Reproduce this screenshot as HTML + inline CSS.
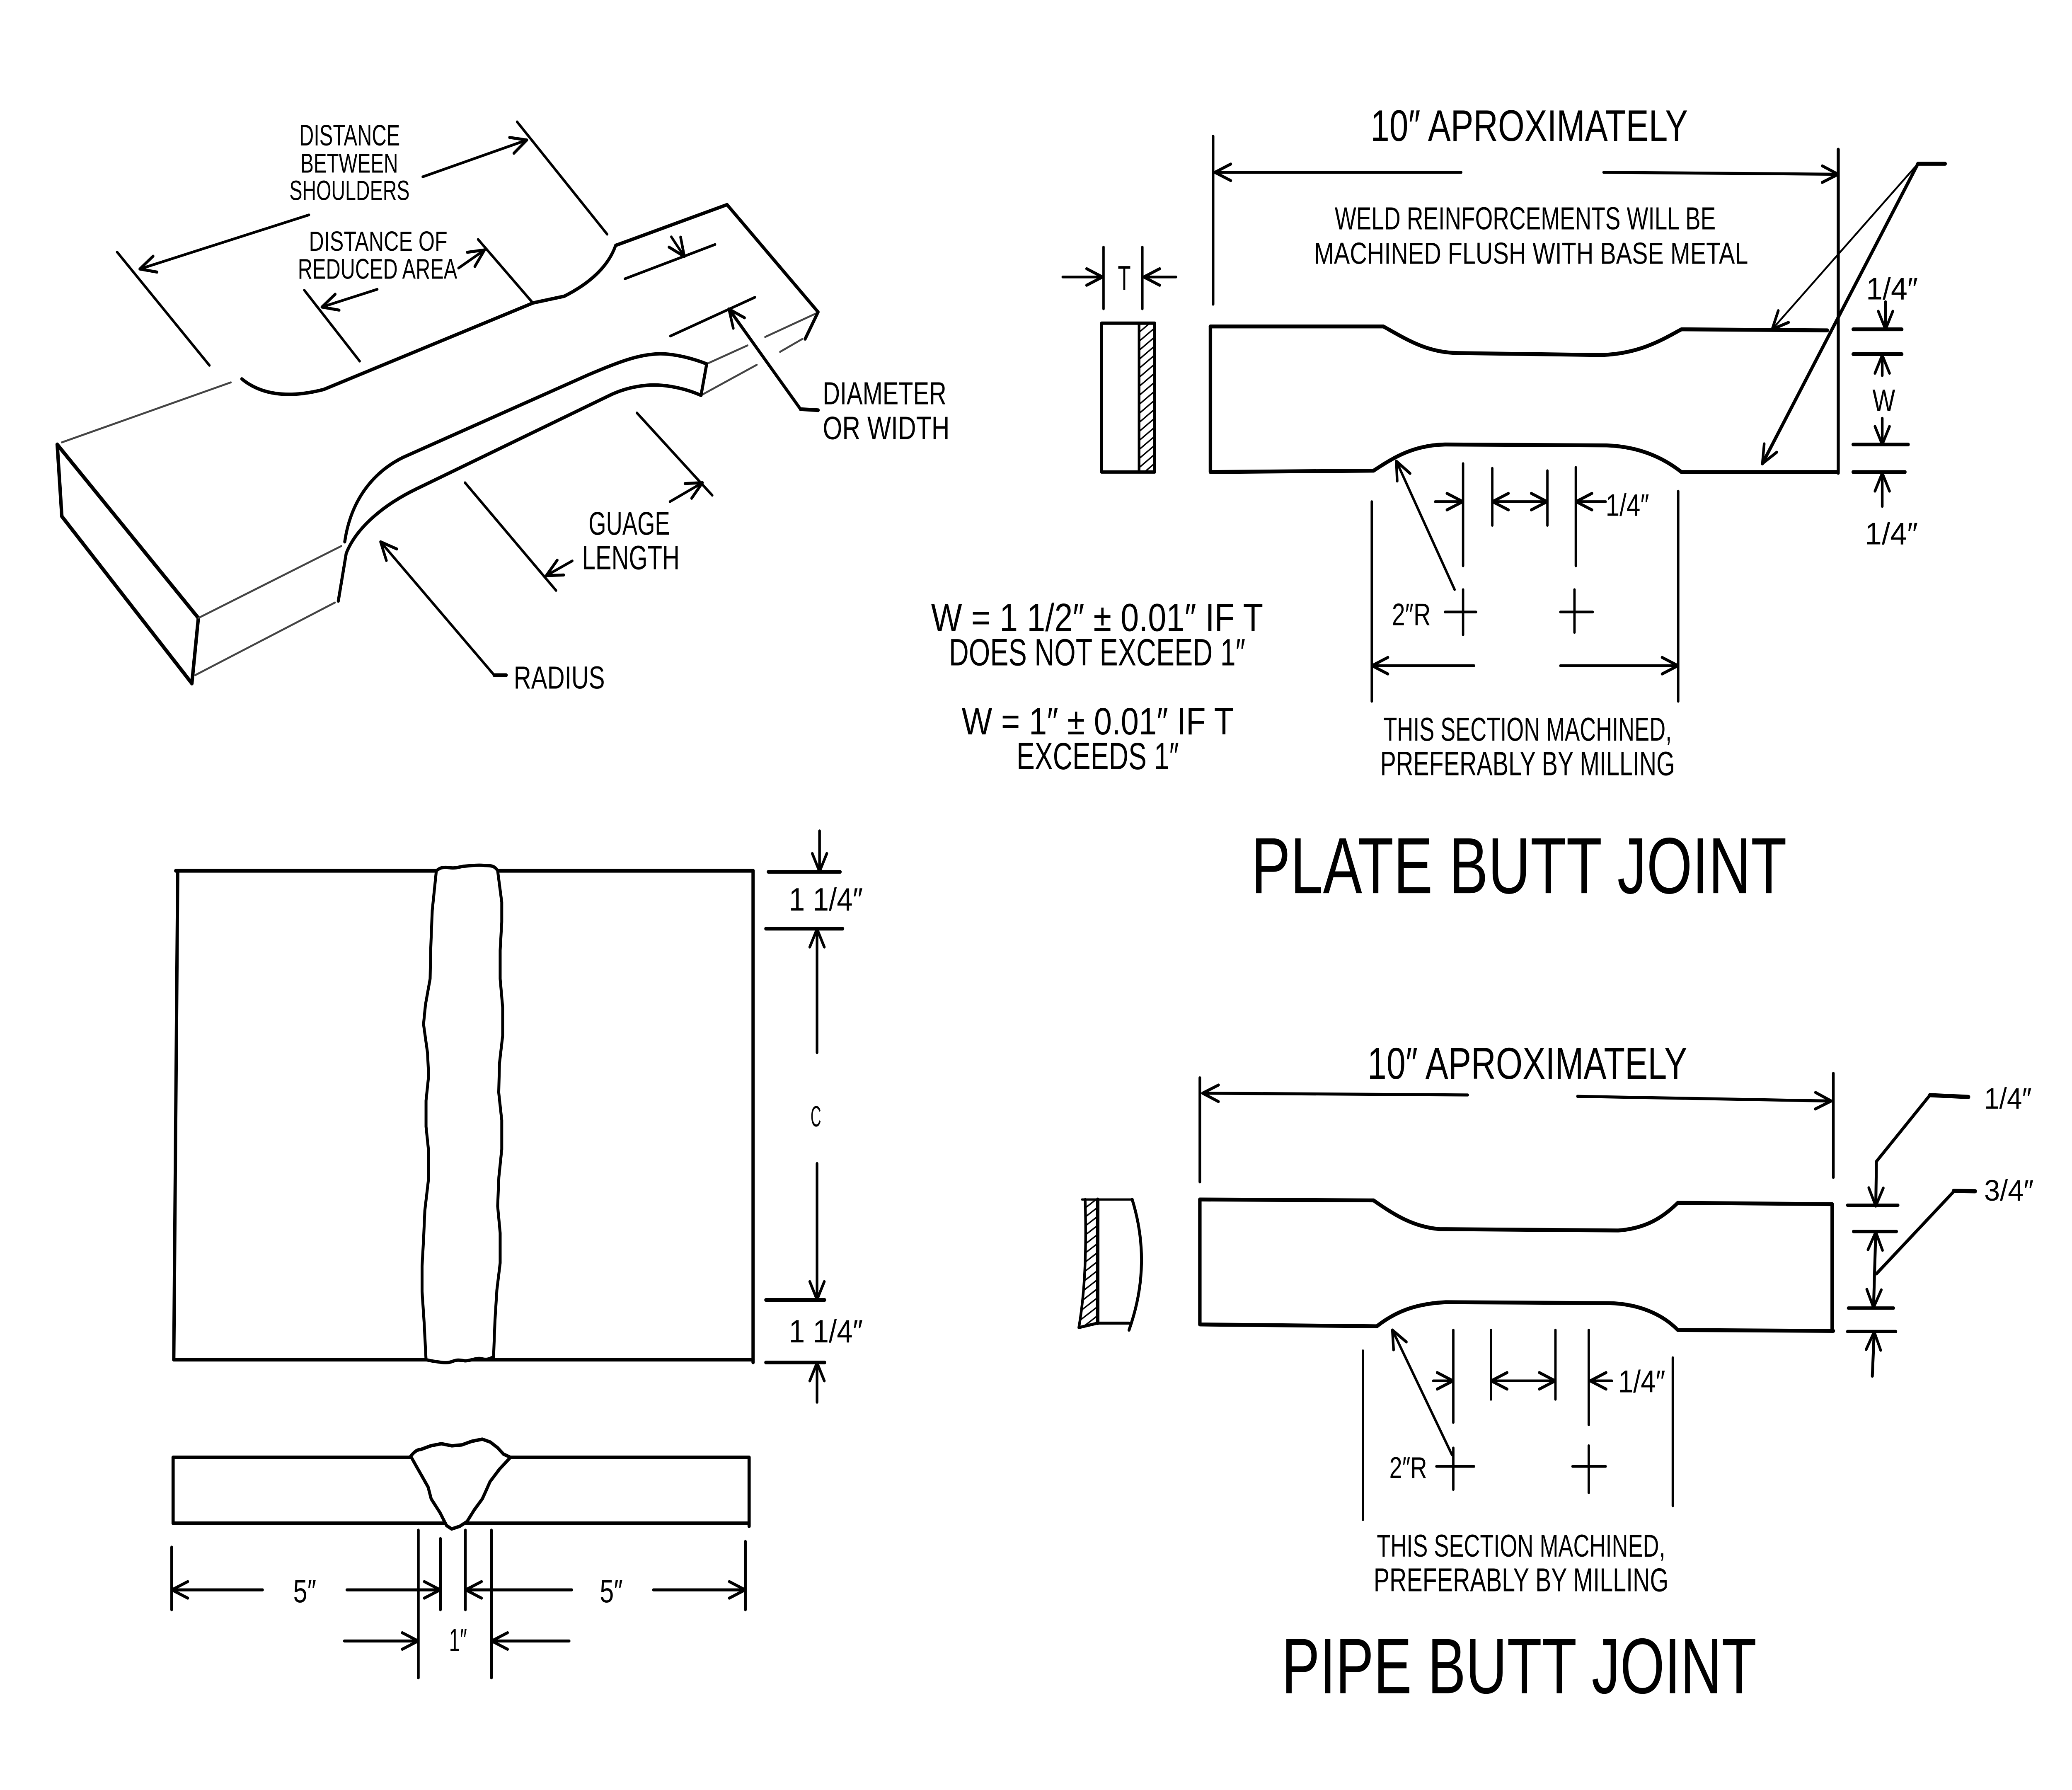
<!DOCTYPE html>
<html><head><meta charset="utf-8"><style>html,body{margin:0;padding:0;background:#fff;width:100%;height:100%;overflow:hidden;}svg{display:block;width:100vw;height:100vh;}</style></head>
<body>
<svg xmlns="http://www.w3.org/2000/svg" viewBox="0 0 1568 1190.4" preserveAspectRatio="none">
<defs>
<marker id="ah" markerUnits="userSpaceOnUse" markerWidth="30" markerHeight="30" viewBox="-15 -15 30 30" refX="0" refY="0" orient="auto-start-reverse" overflow="visible">
<path d="M-12,-5.5 L0,0 L-12,5.5" fill="none" stroke="#000" stroke-width="2" stroke-linecap="round" stroke-linejoin="round"/>
</marker>
<clipPath id="tclip"><rect x="862" y="215" width="11.8" height="98.9"/></clipPath>
<clipPath id="cclip"><path d="M821.2,797.7 L830.7,797.7 L830.7,879.9 L816.4,882.9 Q823,850 821.2,797.7 Z"/></clipPath>
</defs>
<rect x="0" y="0" width="1568" height="1190.4" fill="#fff"/>

<g fill="none" stroke="#000" stroke-linecap="round" stroke-linejoin="round">
<!-- ============ ISOMETRIC SPECIMEN ============ -->
<g stroke-width="2.6">
<path d="M43.3,295.6 L150.1,411"/>
<path d="M43.3,295.6 L46.8,343.4"/>
<path d="M46.8,343.4 L145.2,454.5"/>
<path d="M150.1,411 L145.2,454.5"/>
</g>
<g stroke="#444" stroke-width="1.3">
<path d="M46.8,294.2 L174.7,254.3"/>
<path d="M150.1,411 L258.4,363.1"/>
<path d="M147.7,449 L253.5,400.7"/>
<path d="M579,224.1 L618.4,208.1"/>
<path d="M590.3,234 L607.2,225.4"/>
<path d="M534.8,242 L565.7,229.7"/>
<path d="M530.5,262.9 L572.7,242.6"/>
</g>
<g stroke-width="2.3">
<path d="M183,252 Q205,268 245,259 L403.6,201.4 L427,197 C445,189 460,178 465.9,163.2"/>
<path d="M465.9,163.2 L550.2,136.1 L619.1,207.5 L609.3,225.4"/>
<path d="M534.8,242 L530.5,262.9"/>
<path d="M534.8,242 C520,237 505,234.5 495,235.5 C480,236.5 465,242 445.4,249.2 L305.2,304.1 C280,315 265,335 260.9,360.3"/>
<path d="M530.5,262.9 C515,257 500,255.5 490,256.2 C478,257 468,260 460,263.5 L315,325.2 C292,335 270,350 262,368 L256,399.7"/>
</g>
<g stroke-width="1.8">
<path d="M88.6,167.6 L158.5,243"/>
<path d="M233.8,142.9 L105.8,178.9" marker-end="url(#ah)"/>
<path d="M319.9,117.6 L398.7,93.1" marker-end="url(#ah)"/>
<path d="M391.3,81 L459.5,155.8"/>
<path d="M230.3,193 L272.2,240.2"/>
<path d="M285.5,192.4 L243.6,204.2" marker-end="url(#ah)"/>
<path d="M347,178.3 L366.7,166.2" marker-end="url(#ah)"/>
<path d="M361.8,159.2 L402.6,200.8"/>
<path d="M472.9,185.4 L541.1,162.6"/>
<path d="M508,157.5 L517.9,170.6" marker-end="url(#ah)"/>
<path d="M507.3,223.5 L571.3,197.7"/>
<path d="M605.8,272.1 L551.6,205.5" marker-end="url(#ah)" stroke-width="2.2"/>
<path d="M605.8,272.1 L619.1,272.8" stroke-width="2.5"/>
<path d="M482,274.6 L539,329.4"/>
<path d="M507,333.6 L531.6,321" marker-end="url(#ah)"/>
<path d="M351.9,321 L420.8,392.7"/>
<path d="M433.1,373 L413.4,382.8" marker-end="url(#ah)"/>
<path d="M374,449 L288,360.3" marker-end="url(#ah)"/>
<path d="M374,449 L383,449" stroke-width="2.5"/>
</g>

<!-- ============ PLATE BUTT JOINT ============ -->
<rect x="833.6" y="214.9" width="40.2" height="99" stroke-width="2.2"/>
<path d="M862,214.9 V313.9" stroke-width="2"/>
<g clip-path="url(#tclip)" stroke-width="1">
<path d="M862,221 L874,212 M862,227 L874,218 M862,233 L874,224 M862,239 L874,230 M862,245 L874,236 M862,251 L874,242 M862,257 L874,248 M862,263 L874,254 M862,269 L874,260 M862,275 L874,266 M862,281 L874,272 M862,287 L874,278 M862,293 L874,284 M862,299 L874,290 M862,305 L874,296 M862,311 L874,302 M862,317 L874,308 M862,323 L874,314"/>
</g>
<g stroke-width="1.8">
<path d="M835.1,164.3 V205.4"/>
<path d="M864.5,164.3 V205.4"/>
<path d="M804.2,184.2 L834.3,184.2" marker-end="url(#ah)"/>
<path d="M890,184.2 L865.6,184.2" marker-end="url(#ah)"/>
</g>
<g stroke-width="2.6">
<path d="M916,217.1 L1046.9,217.1 C1065,226 1080,234.5 1103.3,234.8 L1211.2,236.1 C1240,235.5 1258,226 1272.4,219 L1382.8,219.7"/>
<path d="M916,217.1 V313.9 L1039.5,313 C1055,304 1070,296 1093.5,295.6 L1216,296.2 C1240,297 1258,304 1272.4,313.9 L1390.1,313.9"/>
</g>
<g stroke-width="2">
<path d="M1391.1,99.4 V314.6" stroke-width="2.3"/>
<path d="M918,90.6 V202.3"/>
<path d="M1105.7,114.6 L919.4,114.6" marker-end="url(#ah)"/>
<path d="M1213.6,114.6 L1391,115.9" marker-end="url(#ah)"/>
<path d="M1451.4,108.9 H1472" stroke-width="2.6"/>
<path d="M1451.4,108.9 L1341.1,219" stroke-width="1.3" marker-end="url(#ah)"/>
<path d="M1451.4,108.9 L1333.7,308.3" stroke-width="2.4" marker-end="url(#ah)"/>
<path d="M1402.4,219 H1439.2" stroke-width="2.5"/>
<path d="M1426.9,200.7 L1426.9,219" marker-end="url(#ah)"/>
<path d="M1402.4,235.5 H1439.2" stroke-width="2.5"/>
<path d="M1424.4,249.7 L1424.4,236.2" marker-end="url(#ah)"/>
<path d="M1424.4,278.2 L1424.4,295.6" marker-end="url(#ah)"/>
<path d="M1402.4,295.6 H1444" stroke-width="2.5"/>
<path d="M1402.4,313.9 H1441.6" stroke-width="2.5"/>
<path d="M1424.4,336.7 L1424.4,314.6" marker-end="url(#ah)"/>
</g>
<g stroke-width="1.8">
<path d="M1100.8,392.1 L1056.7,306.7" marker-end="url(#ah)"/>
<path d="M1107.2,392.1 V422.2 M1093.5,407 H1117"/>
<path d="M1191.5,392.1 V420.6 M1180.8,407 H1205.3"/>
<path d="M1107.2,308.3 V376.3"/>
<path d="M1129.3,311.4 V349.4"/>
<path d="M1171,313 V349.4"/>
<path d="M1192.5,310.8 V376.3"/>
<path d="M1086.1,333.6 L1107,333.6" marker-end="url(#ah)"/>
<path d="M1129.5,333.6 L1170.8,333.6" marker-start="url(#ah)" marker-end="url(#ah)"/>
<path d="M1215.1,333.6 L1192.7,333.6" marker-end="url(#ah)"/>
<path d="M1038.1,333.6 V466.4"/>
<path d="M1270,326.6 V466.4"/>
<path d="M1115.5,442.7 L1038.3,442.7" marker-end="url(#ah)"/>
<path d="M1180.8,442.7 L1269.8,442.7" marker-end="url(#ah)"/>
</g>

<!-- ============ WELDED PLATE (bottom-left) ============ -->
<g stroke-width="2.5">
<path d="M134.5,579.1 L131.5,904.2"/>
<path d="M133,579.1 H569.9"/>
<path d="M569.9,579.1 V906"/>
<path d="M131.5,904.2 H569.9"/>
</g>
<path fill="#fff" stroke-width="2.2" d="M330.2,579.1 C333,577 335,576.5 340,577 C345,577.8 349,576 352,576 C358,575.5 362,575.2 366,575.5 C370,575.8 374,575 376.6,579.1 L379.7,600 L379.7,613.1 L378.5,632 L378.5,650.9 L380.4,670 L380.4,688.7 L378,707 L377.4,726.5 L379.7,745 L379.7,764.3 L377.5,783 L376.6,802.1 L378.5,820 L378.5,839.9 L376,858 L374.6,877.7 L373.5,902.3 C370,904 368,904.5 364,903.5 C360,903 356,905 352,905 C348,904.5 346,904 342,905.5 C338,906.8 334,906 330,905.5 C326,905 324,904.6 322.4,904.2 L321,880 L319.4,858.8 L319.4,842 L320.5,824.8 L321.5,805 L324.4,783.2 L324.4,766 L322.4,749.2 L322.4,732 L324.4,715.2 L323.5,700 L320.5,681.1 L322,668 L325.5,650.9 L326,630 L327.1,605.5 Z"/>
<g stroke-width="2">
<path d="M581.5,579.8 H635.7" stroke-width="2.5"/>
<path d="M620.2,552.6 L620.2,579.6" marker-end="url(#ah)"/>
<path d="M579.6,617.6 H637.6" stroke-width="2.5"/>
<path d="M618.3,700 L618.3,617.8" marker-end="url(#ah)"/>
<path d="M618.3,773.8 L618.3,864.3" marker-end="url(#ah)"/>
<path d="M579.6,864.5 H624" stroke-width="2.5"/>
<path d="M579.6,906.1 H624" stroke-width="2.5"/>
<path d="M618.3,932.5 L618.3,906.3" marker-end="url(#ah)"/>
</g>
<g stroke-width="2.4">
<path d="M131,969.2 H310.8"/>
<path d="M386.3,969.2 H566.9"/>
<path d="M131,969.2 V1013"/>
<path d="M566.9,969.2 V1015"/>
<path d="M131,1013 H566.9"/>
</g>
<path fill="#fff" stroke-width="2.3" d="M310.8,968.4 C314,965 316,964 318.6,963.9 L326,961.5 L334,960.1 L342,961.5 L349.5,960.9 L357,958.5 L365,957.1 L371,959 L376.6,962.8 L381,967 L386.3,969.2 L378,977 L370.8,985.4 L368,991 L365,996.8 L359,1004 L353.4,1011.9 L348,1015 L341.8,1016.8 L337.9,1014.5 L333,1006 L326.3,996.8 L324,989 L320.5,983.5 L315,975 Z"/>
<g stroke-width="2">
<path d="M129.9,1028.9 V1070.5"/>
<path d="M564.1,1025.1 V1070.5"/>
<path d="M316.6,1017.6 V1115.8"/>
<path d="M333.3,1023.2 V1070.5"/>
<path d="M352.2,1017.6 V1070.5"/>
<path d="M371.9,1017.6 V1115.8"/>
<path d="M198.7,1057.3 L130.1,1057.3" marker-end="url(#ah)"/>
<path d="M262.5,1057.3 L333.1,1057.3" marker-end="url(#ah)"/>
<path d="M432.7,1057.3 L352.4,1057.3" marker-end="url(#ah)"/>
<path d="M494.5,1057.3 L563.9,1057.3" marker-end="url(#ah)"/>
<path d="M260.6,1091.3 L316.4,1091.3" marker-end="url(#ah)"/>
<path d="M430.7,1091.3 L372.1,1091.3" marker-end="url(#ah)"/>
</g>

<!-- ============ PIPE BUTT JOINT ============ -->
<g stroke-width="2.6">
<path d="M908,797.7 L1039.5,798.3 C1055,808 1070,816 1089.3,817.4 L1224.6,818.3 C1245,817 1258,810 1269.7,799.9 L1386,800.8"/>
<path d="M908,797.7 V880.8 L1041.9,882 C1055,873 1070,867 1094.1,866 L1217.5,866.6 C1240,867 1258,874 1269.7,884.5 L1387.4,885.1"/>
<path d="M1386.5,800.8 V885.1"/>
</g>
<g stroke-width="2">
<path d="M908,716.8 V786"/>
<path d="M1387.4,713.8 V783"/>
<path d="M1110.7,728.2 L910.1,727" marker-end="url(#ah)"/>
<path d="M1193.8,729.1 L1385.8,732.2" marker-end="url(#ah)"/>
</g>
<!-- crescent section -->
<g clip-path="url(#cclip)" stroke-width="1">
<path d="M810,805 L832,790 M810,811 L832,796 M810,817 L832,802 M810,823 L832,808 M810,829 L832,814 M810,835 L832,820 M810,841 L832,826 M810,847 L832,832 M810,853 L832,838 M810,859 L832,844 M810,865 L832,850 M810,871 L832,856 M810,877 L832,862 M810,883 L832,868 M810,889 L832,874 M810,895 L832,880"/>
</g>
<g stroke-width="2">
<path d="M818.8,797.7 H856.8" stroke-width="1.5"/>
<path d="M830.7,879.9 H854.4"/>
<path d="M821.2,797.7 Q823,850 816.4,882.9 L830.7,879.9"/>
<path d="M830.7,797.7 V879.9" stroke-width="2.6"/>
<path d="M856.8,797.7 Q872,841 854.4,884.5" stroke-width="2.2"/>
</g>
<g stroke-width="2.2">
<path d="M1460.5,728.3 L1489.6,729.5" stroke-width="2.8"/>
<path d="M1460.5,728.3 L1420,772.4 L1419.5,802" marker-end="url(#ah)"/>
<path d="M1398.1,801.5 H1436.3"/>
<path d="M1402.6,819 H1435.2"/>
<path d="M1419.5,819.3 L1417.8,869.6" marker-start="url(#ah)" marker-end="url(#ah)"/>
<path d="M1478.4,792 L1494.7,792.2" stroke-width="2.8"/>
<path d="M1478.4,792.5 L1420,847.1"/>
<path d="M1398.7,869.9 H1433"/>
<path d="M1398.1,885.5 H1434.6"/>
<path d="M1416.9,915.1 L1418.3,885.7" marker-end="url(#ah)"/>
</g>
<g stroke-width="1.8">
<path d="M1098.8,967.5 L1053.7,884.5" marker-end="url(#ah)"/>
<path d="M1099.8,962.9 V990.6 M1087,975.2 H1115.5"/>
<path d="M1202.3,961.4 V992.7 M1190,975.2 H1215.1"/>
<path d="M1099.8,884.5 V946"/>
<path d="M1128.3,884.5 V930.6"/>
<path d="M1177.1,884.5 V930.6"/>
<path d="M1202.3,884.5 V947.5"/>
<path d="M1084.6,918.3 L1099.6,918.3" marker-end="url(#ah)"/>
<path d="M1128.5,918.3 L1176.9,918.3" marker-start="url(#ah)" marker-end="url(#ah)"/>
<path d="M1219.9,918.3 L1203.4,918.3" marker-end="url(#ah)"/>
<path d="M1031.4,898.3 V1010.6"/>
<path d="M1265.9,902.9 V1001.4"/>
</g>
</g>

<!-- ============ TEXT ============ -->
<g font-family="'Liberation Sans', sans-serif" fill="#000">
<text x="226.4" y="96.8" font-size="19.6" textLength="76.3" lengthAdjust="spacingAndGlyphs">DISTANCE</text>
<text x="227.4" y="114.8" font-size="18.2" textLength="73.8" lengthAdjust="spacingAndGlyphs">BETWEEN</text>
<text x="219" y="133" font-size="18.3" textLength="91" lengthAdjust="spacingAndGlyphs">SHOULDERS</text>
<text x="233.8" y="166.8" font-size="18.5" textLength="104.8" lengthAdjust="spacingAndGlyphs">DISTANCE OF</text>
<text x="225.4" y="185.4" font-size="18.9" textLength="120.6" lengthAdjust="spacingAndGlyphs">REDUCED AREA</text>
<text x="622.6" y="268.9" font-size="21.2" textLength="93.6" lengthAdjust="spacingAndGlyphs">DIAMETER</text>
<text x="622.6" y="292" font-size="21.4" textLength="96" lengthAdjust="spacingAndGlyphs">OR WIDTH</text>
<text x="445.4" y="355.5" font-size="21.7" textLength="61.6" lengthAdjust="spacingAndGlyphs">GUAGE</text>
<text x="440.5" y="378.6" font-size="22.5" textLength="73.8" lengthAdjust="spacingAndGlyphs">LENGTH</text>
<text x="388.8" y="457.9" font-size="21.2" textLength="68.9" lengthAdjust="spacingAndGlyphs">RADIUS</text>

<text x="1037.1" y="93.7" font-size="29.4" textLength="240.2" lengthAdjust="spacingAndGlyphs">10″ APROXIMATELY</text>
<text x="1010.1" y="152.6" font-size="21.2" textLength="288.3" lengthAdjust="spacingAndGlyphs">WELD REINFORCEMENTS WILL BE</text>
<text x="994.4" y="175.4" font-size="20.3" textLength="328.5" lengthAdjust="spacingAndGlyphs">MACHINED FLUSH WITH BASE METAL</text>
<text x="845.9" y="192.8" font-size="23" textLength="9.8" lengthAdjust="spacingAndGlyphs">T</text>
<text x="1412.2" y="199.1" font-size="20.6" textLength="39.2" lengthAdjust="spacingAndGlyphs">1/4″</text>
<text x="1417" y="273.4" font-size="20.6" textLength="17.2" lengthAdjust="spacingAndGlyphs">W</text>
<text x="1411.2" y="362" font-size="20.6" textLength="40.2" lengthAdjust="spacingAndGlyphs">1/4″</text>
<text x="1053.3" y="415.8" font-size="20.6" textLength="29.4" lengthAdjust="spacingAndGlyphs">2″R</text>
<text x="1215.1" y="343" font-size="20.6" textLength="32.9" lengthAdjust="spacingAndGlyphs">1/4″</text>
<text x="1046.9" y="492.5" font-size="22" textLength="218.2" lengthAdjust="spacingAndGlyphs">THIS SECTION MACHINED,</text>
<text x="1044.5" y="515.5" font-size="22.5" textLength="223" lengthAdjust="spacingAndGlyphs">PREFERABLY BY MILLING</text>

<text x="704.6" y="419.7" font-size="26" textLength="251.3" lengthAdjust="spacingAndGlyphs">W = 1 1/2″ ± 0.01″ IF T</text>
<text x="718.1" y="442.5" font-size="25.3" textLength="224.3" lengthAdjust="spacingAndGlyphs">DOES NOT EXCEED 1″</text>
<text x="727.8" y="488.4" font-size="25.3" textLength="205.9" lengthAdjust="spacingAndGlyphs">W = 1″ ± 0.01″ IF T</text>
<text x="769.3" y="511.6" font-size="25.3" textLength="122.8" lengthAdjust="spacingAndGlyphs">EXCEEDS 1″</text>

<text x="946.9" y="594" font-size="53" textLength="405.2" lengthAdjust="spacingAndGlyphs">PLATE BUTT JOINT</text>

<text x="597" y="605.5" font-size="21.5" textLength="56" lengthAdjust="spacingAndGlyphs">1 1/4″</text>
<text x="613.4" y="749.2" font-size="19.5" textLength="8" lengthAdjust="spacingAndGlyphs">C</text>
<text x="597" y="892.8" font-size="21.5" textLength="56" lengthAdjust="spacingAndGlyphs">1 1/4″</text>
<text x="221.9" y="1065.5" font-size="21.5" textLength="17.4" lengthAdjust="spacingAndGlyphs">5″</text>
<text x="453.9" y="1065.5" font-size="21.5" textLength="17.4" lengthAdjust="spacingAndGlyphs">5″</text>
<text x="339.8" y="1098" font-size="21.5" textLength="13.6" lengthAdjust="spacingAndGlyphs">1″</text>

<text x="1034.8" y="717.5" font-size="29.8" textLength="242" lengthAdjust="spacingAndGlyphs">10″ APROXIMATELY</text>
<text x="1501.5" y="737.3" font-size="19.6" textLength="36" lengthAdjust="spacingAndGlyphs">1/4″</text>
<text x="1501.5" y="798.5" font-size="19.6" textLength="37.5" lengthAdjust="spacingAndGlyphs">3/4″</text>
<text x="1224.6" y="926" font-size="21" textLength="35.6" lengthAdjust="spacingAndGlyphs">1/4″</text>
<text x="1051.4" y="982.9" font-size="20" textLength="28.5" lengthAdjust="spacingAndGlyphs">2″R</text>
<text x="1041.9" y="1035.2" font-size="21" textLength="218.3" lengthAdjust="spacingAndGlyphs">THIS SECTION MACHINED,</text>
<text x="1039.5" y="1058.3" font-size="22" textLength="223.1" lengthAdjust="spacingAndGlyphs">PREFERABLY BY MILLING</text>
<text x="969.9" y="1126" font-size="52.3" textLength="359.4" lengthAdjust="spacingAndGlyphs">PIPE BUTT JOINT</text>
</g>
</svg>
</body></html>
